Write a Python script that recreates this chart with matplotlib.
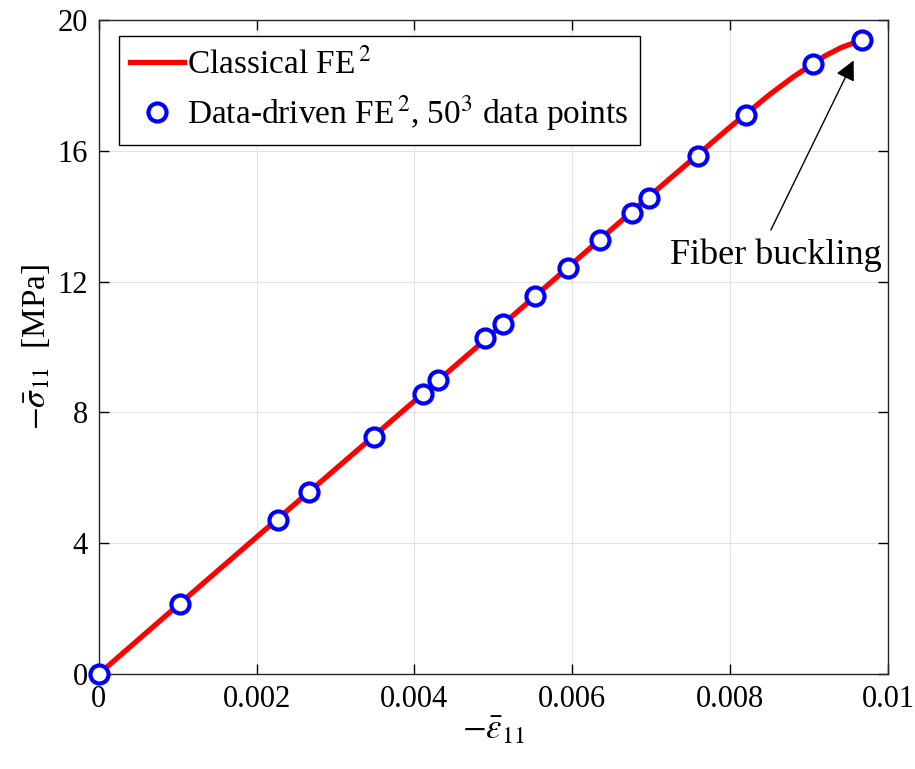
import numpy as np
import matplotlib
matplotlib.use('Agg')
import matplotlib.pyplot as plt

plt.rcParams['font.family'] = ['Liberation Serif', 'DejaVu Serif']
plt.rcParams['mathtext.fontset'] = 'stix'
plt.rcParams['font.size'] = 22

# classical FE^2 curve (strain, stress in MPa)
fe2_strain = [0.0, 0.001, 0.002, 0.003, 0.004, 0.005, 0.006, 0.007, 0.008,
              0.0085, 0.0088, 0.009, 0.0092, 0.0094, 0.0096, 0.00967]
fe2_stress = [0.0, 2.10, 4.19, 6.27, 8.35, 10.44, 12.55, 14.66, 16.73,
              17.72, 18.26, 18.58, 18.90, 19.15, 19.33, 19.39]

# data-driven FE^2 points
dd_strain = [0.0, 0.00103, 0.00227, 0.00266, 0.00349, 0.00411, 0.00430, 0.00489,
             0.00512, 0.00553, 0.00594, 0.00635, 0.00676, 0.00697, 0.00759,
             0.00820, 0.00905, 0.00967]
dd_stress = [0.0, 2.14, 4.71, 5.57, 7.25, 8.56, 8.99, 10.28, 10.70, 11.56,
             12.42, 13.27, 14.10, 14.56, 15.84, 17.09, 18.65, 19.39]

fig = plt.figure(figsize=(9.15, 7.69), dpi=100)
ax = fig.add_axes([0.108, 0.1235, 0.8625, 0.8505])

ax.plot(fe2_strain, fe2_stress, color='red', lw=3.8, label='Classical FE$^{\\,2}$',
        zorder=3, clip_on=False)
ax.plot(dd_strain, dd_stress, 'o', color='blue', mfc='white', mec='blue',
        ms=13, mew=3, label='Data-driven FE$^{\\,2}$, 50$^3$ data points',
        zorder=4, clip_on=False)

ax.set_xlim(0, 0.01)
ax.set_ylim(0, 20)
ax.set_xticks([0, 0.002, 0.004, 0.006, 0.008, 0.01])
ax.set_xticklabels(['0', '0.002', '0.004', '0.006', '0.008', '0.01'])
ax.set_yticks([0, 4, 8, 12, 16, 20])
ax.grid(True, color='#e3e3e3', lw=0.8)
ax.set_axisbelow(True)
ax.tick_params(direction='in', top=True, right=True, length=7, width=1, pad=8)
for s in ax.spines.values():
    s.set_color('#262626')
    s.set_linewidth(1)

ax.set_xlabel(r'$-\bar{\varepsilon}_{11}$', fontsize=25, labelpad=0)
ax.set_ylabel(r'$-\bar{\sigma}_{11}$  [MPa]', fontsize=24, labelpad=4)

ax.annotate('', xy=(0.00958, 18.84), xytext=(0.0085, 13.5),
            arrowprops=dict(arrowstyle='-|>', color='black', lw=1, mutation_scale=30))
ax.text(0.00858, 12.8, 'Fiber buckling', ha='center', va='center', fontsize=26)

leg = ax.legend(loc='upper left', bbox_to_anchor=(0.025, 0.975), fancybox=False,
                framealpha=1, edgecolor='black', handlelength=1.6, handletextpad=0.1,
                borderpad=0.35, labelspacing=0.38, borderaxespad=0, fontsize=24)
leg.get_frame().set_linewidth(1)

fig.savefig('out.png', dpi=100)
